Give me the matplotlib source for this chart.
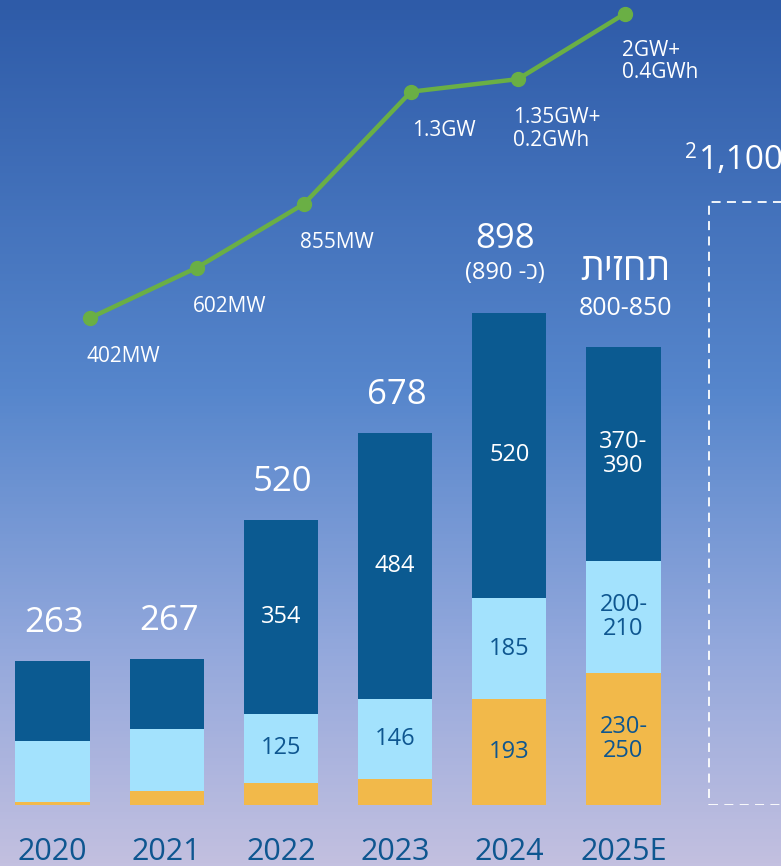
import numpy as np
import matplotlib
matplotlib.use("Agg")
import matplotlib.pyplot as plt
from matplotlib.colors import LinearSegmentedColormap

plt.rcParams['font.family'] = ['Open Sans', 'DejaVu Sans']

# data
years = ["2020", "2021", "2022", "2023", "2024", "2025E"]
yellow = [6, 26, 41, 48, 193, 240]
light = [110, 113, 125, 146, 185, 205]
dark = [147, 128, 354, 484, 520, 390]
totals = ["263", "267", "520", "678", "898", "800-850"]
yellow_lbl = ["", "", "", "", "193", "230-\n250"]
light_lbl = ["", "", "125", "146", "185", "200-\n210"]
dark_lbl = ["", "", "354", "484", "520", "370-\n390"]
target_value = 1100
target_lbl = "1,100"

# capacity line (height as drawn; last point is drawn compressed in the source)
line_level = [402, 602, 855, 1300, 1350, 1610]
line_lbl = ["402MW", "602MW", "855MW", "1.3GW", "1.35GW+\n0.2GWh", "2GW+\n0.4GWh"]

c_dark = "#0b5a91"
c_light = "#a3e2fd"
c_yellow = "#f2b94a"
c_text_dark = "#0e5690"
c_green = "#6aaf45"

fig = plt.figure(figsize=(7.81, 8.66), dpi=100)

# gradient background
bg = fig.add_axes([0, 0, 1, 1])
cmap = LinearSegmentedColormap.from_list(
    "bg", [(0, "#2e5ba8"), (0.45, "#5686cc"), (0.75, "#93a8dc"), (1.0, "#c3c0e0")])
grad = np.linspace(0, 1, 256).reshape(-1, 1)
bg.imshow(grad, aspect="auto", cmap=cmap, extent=[0, 1, 0, 1], origin="upper")
bg.axis("off")

# bars
ax = fig.add_axes([0, 61 / 866, 1, 805 / 866])
ax.set_facecolor("none")
x = np.arange(len(years))
w = 0.65
ax.bar(x, yellow, w, color=c_yellow)
ax.bar(x, light, w, bottom=yellow, color=c_light)
b2 = np.array(yellow) + np.array(light)
ax.bar(x, dark, w, bottom=b2, color=c_dark)
ax.bar(6.1, target_value, 0.7, fill=False, edgecolor="white",
       linestyle=(0, (5, 3.5)), linewidth=1.3)
ax.set_xlim(-52.5 / 114.2, (781 - 52.5) / 114.2)
ax.set_ylim(0, 805 / 0.548)
for s in ax.spines.values():
    s.set_visible(False)
ax.set_yticks([])
ax.set_xticks(x)
ax.set_xticklabels(years, fontsize=22, color=c_text_dark, fontweight="medium")
ax.tick_params(axis="x", length=0, pad=23)

top = b2 + np.array(dark)
for i in range(len(years)):
    ax.text(i, yellow[i] / 2, yellow_lbl[i], ha="center", va="center",
            fontsize=17, color=c_text_dark, linespacing=1.0)
    ax.text(i, yellow[i] + light[i] / 2, light_lbl[i], ha="center", va="center",
            fontsize=17, color=c_text_dark, linespacing=1.0)
    ax.text(i, b2[i] + dark[i] / 2, dark_lbl[i], ha="center", va="center",
            fontsize=17, color="white", linespacing=1.0)
for i in range(4):
    ax.annotate(totals[i], (i, top[i]), xytext=(2, 38), textcoords="offset pixels",
                ha="center", va="center", fontsize=25, color="white")
ax.annotate(totals[4], (4, top[4]), xytext=(-4, 74), textcoords="offset pixels",
            ha="center", va="center", fontsize=25, color="white")
ax.annotate("(890 -כ)", (4, top[4]), xytext=(-4, 40), textcoords="offset pixels",
            ha="center", va="center", fontsize=17, color="white")
ax.annotate(totals[5], (5, top[5]), xytext=(2, 39), textcoords="offset pixels",
            ha="center", va="center", fontsize=18, color="white")
ax.annotate("תחזית"[::-1], (5, top[5]), xytext=(2, 77), textcoords="offset pixels",
            ha="center", va="center", fontsize=27, color="white")
ax.annotate("2", (6.1 - 0.35, target_value), xytext=(-24, 50),
            textcoords="offset pixels", ha="left", va="center", fontsize=15,
            color="white", annotation_clip=False)
ax.annotate(target_lbl, (6.1 - 0.35, target_value), xytext=(-10, 42),
            textcoords="offset pixels", ha="left", va="center", fontsize=24,
            color="white", annotation_clip=False)

# line
lx = fig.add_axes([0, 0, 1, 1])
lx.set_facecolor("none")
lx.axis("off")
xi = np.arange(len(line_level))
lx.plot(xi, line_level, color=c_green, lw=3.2, marker="o", markersize=10,
        solid_capstyle="round")
lx.set_xlim(-90 / 107, (781 - 90) / 107)
lx.set_ylim(402 - (866 - 318) / 0.252, 402 + 318 / 0.252)
for i in range(4):
    lx.annotate(line_lbl[i], (i, line_level[i]), xytext=(33, -39),
                textcoords="offset pixels", ha="center", va="center",
                fontsize=15, color="white")
for i, off in [(4, (-5, -28)), (5, (-3, -26))]:
    lx.annotate(line_lbl[i], (i, line_level[i]), xytext=off,
                textcoords="offset pixels", ha="left", va="top",
                fontsize=15, color="white", linespacing=1.1)

fig.savefig("out.png", dpi=100)
